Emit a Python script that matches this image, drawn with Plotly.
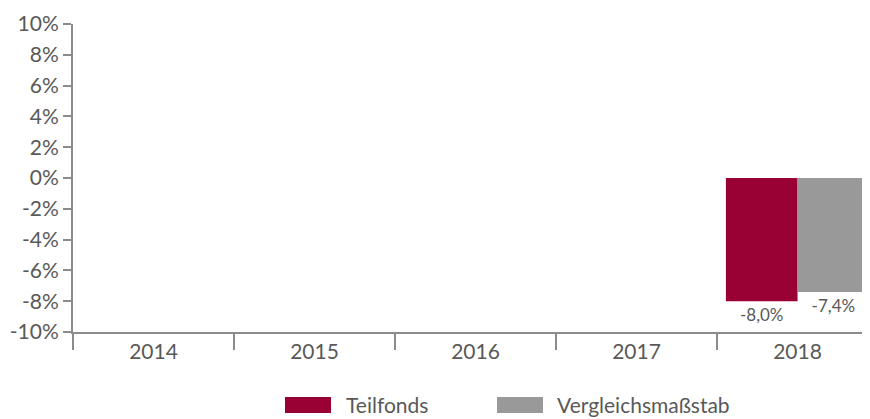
import plotly.graph_objects as go

years = ["2014", "2015", "2016", "2017", "2018"]
teilfonds = [None, None, None, None, -8.0]
vergleich = [None, None, None, None, -7.4]
series_names = ["Teilfonds", "Vergleichsmaßstab"]
colors = ["#990033", "#999999"]
y_ticks = [-10, -8, -6, -4, -2, 0, 2, 4, 6, 8, 10]
y_ticklabels = [f"{v}%" for v in y_ticks]

def fmt(vals):
    return [("" if v is None else f"{v:.1f}%".replace(".", ",")) for v in vals]

FONT = "Lato"
TXT = "#595959"
AX = "#8c8c8c"
OFF = 8  # page body margin offset
W, H = 870 - OFF, 419 - OFF

fig = go.Figure()
for name, vals, col in zip(series_names, [teilfonds, vergleich], colors):
    fig.add_trace(go.Bar(
        x=years, y=vals, name=name, marker=dict(color=col, line=dict(width=0)),
        text=fmt(vals), textposition="outside", cliponaxis=False,
        textfont=dict(size=17, color=TXT, family=FONT),
        showlegend=False,
    ))

# plot domain in screen pixels: x 73..870, y 24..332
L, R, T, B = 73, 870, 24, 332
def px(x):
    return (x - L) / (R - L)
def py(y):
    return (B - y) / (B - T)

legend_items = [(285, 344), (497, 555)]
shapes = []
annotations = []
for (sx, tx), name, col in zip(legend_items, series_names, colors):
    shapes.append(dict(type="rect", xref="paper", yref="paper",
                       x0=px(sx), x1=px(sx + 46), y0=py(413), y1=py(397),
                       fillcolor=col, line=dict(width=0)))
    annotations.append(dict(xref="paper", yref="paper", x=px(tx), y=py(405),
                            xanchor="left", yanchor="middle", text=name, showarrow=False,
                            font=dict(size=21, color=TXT, family=FONT)))

fig.update_layout(
    width=W, height=H,
    margin=dict(l=L - OFF, r=(W + OFF) - R, t=T - OFF, b=(H + OFF) - B, autoexpand=False),
    paper_bgcolor="white", plot_bgcolor="white",
    font=dict(family=FONT, size=21, color=TXT),
    barmode="group", bargap=0.11, bargroupgap=0,
    showlegend=False,
    shapes=shapes, annotations=annotations,
    xaxis=dict(type="category", range=[-0.5, 4.45], showline=True, linecolor=AX,
               linewidth=2, ticks="outside", tickson="boundaries", ticklen=16,
               tickcolor=AX, tickwidth=2, showgrid=False, zeroline=False, automargin=False,
               tickfont=dict(size=21, color=TXT)),
    yaxis=dict(range=[-10, 10], tickvals=y_ticks, ticktext=y_ticklabels, showline=True,
               linecolor=AX, linewidth=2, ticks="outside", ticklen=8, automargin=False,
               tickcolor=AX, tickwidth=2, showgrid=False, zeroline=False,
               tickfont=dict(size=21, color=TXT)),
    separators=",.",
)
fig.write_html("out.html")
